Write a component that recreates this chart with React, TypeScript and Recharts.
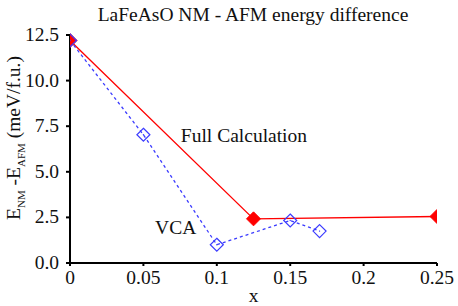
import { ComposedChart, Line, XAxis, YAxis, Label, ReferenceDot } from 'recharts';

// x values and energy differences (meV/f.u.)
const fullX = [0, 0.125, 0.25];
const fullE = [12.2, 2.42, 2.55];
const vcaX = [0, 0.05, 0.1, 0.15, 0.17];
const vcaE = [12.2, 7.03, 1.0, 2.33, 1.75];
const xTicks = [0, 0.05, 0.1, 0.15, 0.2, 0.25];
const yTicks = [0, 2.5, 5, 7.5, 10, 12.5];

const fullData = fullX.map((x, i) => ({ x, e: fullE[i] }));
const vcaData = vcaX.map((x, i) => ({ x, e: vcaE[i] }));

const FONT = "'Liberation Serif', 'Times New Roman', 'DejaVu Serif', serif";
const RED = '#ff0000';
const BLUE = '#3b3bff';
const INK = '#111';
const txt = { fontFamily: FONT, fontSize: 19.5, fill: INK };

const FilledDiamond = (props: any) => {
  const { cx, cy, index } = props;
  const r = 7;
  return (
    <path
      key={'fd' + index}
      d={`M${cx},${cy - r} L${cx + r},${cy} L${cx},${cy + r} L${cx - r},${cy} Z`}
      fill={RED}
      stroke={RED}
    />
  );
};

const OpenDiamond = (props: any) => {
  const { cx, cy, index } = props;
  const r = 6.5;
  return (
    <g key={'od' + index}>
      <path
        d={`M${cx},${cy - r} L${cx + r},${cy} L${cx},${cy + r} L${cx - r},${cy} Z`}
        fill="none"
        stroke={BLUE}
        strokeWidth={1.2}
      />
      <circle cx={cx} cy={cy} r={0.7} fill={BLUE} />
    </g>
  );
};

const XTick = (props: any) => {
  const { x, y, payload } = props;
  return (
    <text x={x} y={y + 16} textAnchor="middle" style={txt}>
      {String(payload.value)}
    </text>
  );
};

const YTick = (props: any) => {
  const { x, y, payload } = props;
  return (
    <text x={x} y={y + 6} textAnchor="end" style={txt}>
      {Number(payload.value).toFixed(1)}
    </text>
  );
};

const YTitle = (props: any) => {
  const vb = props.viewBox || {};
  const cy = vb.y + vb.height / 2 - 11;
  const cx = 20;
  return (
    <text transform={`translate(${cx},${cy}) rotate(-90)`} textAnchor="middle" style={txt}>
      E<tspan style={{ fontSize: 11 }} dy={5}>NM</tspan>
      <tspan dy={-5}> -E</tspan>
      <tspan style={{ fontSize: 11 }} dy={5}>AFM</tspan>
      <tspan dy={-5}> (meV/f.u.)</tspan>
    </text>
  );
};

const axisLine = { stroke: '#000', strokeWidth: 2 };
const tickLine = { stroke: '#000', strokeWidth: 2 };
const blank = () => '';

export default function App() {
  return (
    <div style={{ position: 'absolute', left: 0, top: 0, width: 458, height: 306, background: '#fff' }}>
      <ComposedChart width={458} height={306} margin={{ top: 35, right: 21, bottom: 0, left: 0 }}>
        <text x={253} y={21} textAnchor="middle" style={txt}>
          LaFeAsO NM - AFM energy difference
        </text>
        <XAxis
          xAxisId="b"
          type="number"
          dataKey="x"
          domain={[0, 0.25]}
          ticks={xTicks}
          allowDataOverflow
          height={43}
          axisLine={axisLine}
          tickLine={tickLine}
          tickSize={3}
          tick={<XTick />}
          interval={0}
        >
          <Label value="x" position="insideBottom" offset={4} style={txt} />
        </XAxis>
        <XAxis
          xAxisId="t"
          orientation="top"
          type="number"
          dataKey="x"
          domain={[0, 0.25]}
          ticks={xTicks}
          tickFormatter={blank}
          height={0}
          axisLine={axisLine}
          tickLine={tickLine}
          tickSize={3}
          interval={0}
        />
        <YAxis
          yAxisId="l"
          type="number"
          domain={[0, 12.5]}
          ticks={yTicks}
          width={70}
          axisLine={axisLine}
          tickLine={tickLine}
          tickSize={4}
          tickMargin={7}
          tick={<YTick />}
          interval={0}
        >
          <Label content={<YTitle />} />
        </YAxis>
        <YAxis
          yAxisId="r"
          orientation="right"
          type="number"
          domain={[0, 12.5]}
          ticks={yTicks}
          tickFormatter={blank}
          width={0}
          axisLine={axisLine}
          tickLine={tickLine}
          tickSize={3}
          interval={0}
        />
        <Line
          xAxisId="b"
          yAxisId="l"
          data={fullData}
          dataKey="e"
          stroke={RED}
          strokeWidth={1.3}
          dot={FilledDiamond}
          activeDot={false}
          isAnimationActive={false}
        />
        <Line
          xAxisId="b"
          yAxisId="l"
          data={vcaData}
          dataKey="e"
          stroke={BLUE}
          strokeWidth={1.3}
          strokeDasharray="3 3"
          dot={OpenDiamond}
          activeDot={false}
          isAnimationActive={false}
        />
        <ReferenceDot
          xAxisId="b"
          yAxisId="l"
          x={0.1185}
          y={7.0}
          r={0}
          fill="none"
          stroke="none"
          label={{ value: 'Full Calculation', position: 'center', style: txt }}
        />
        <ReferenceDot
          xAxisId="b"
          yAxisId="l"
          x={0.072}
          y={1.97}
          r={0}
          fill="none"
          stroke="none"
          label={{ value: 'VCA', position: 'center', style: txt }}
        />
      </ComposedChart>
    </div>
  );
}
